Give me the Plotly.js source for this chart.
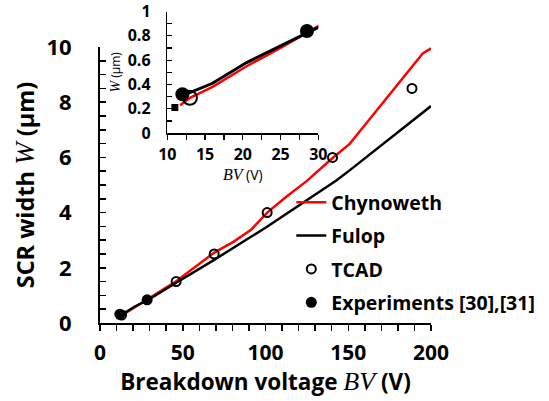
<!DOCTYPE html>
<html>
<head>
<meta charset="utf-8">
<script src="https://cdn.plot.ly/plotly-3.0.1.min.js"></script>
<style>html,body{margin:0;padding:0;background:#fff;}#chart{width:549px;height:401px;}</style>
</head>
<body>
<div id="chart"></div>
<script>
// Chynoweth model (red line)
const bvChynoweth = [11.7, 13, 16, 20.5, 25, 30, 36, 45, 69, 80.6, 91.5, 101, 112, 125, 140, 151, 157, 195, 200];
const wChynoweth  = [0.23, 0.29, 0.38, 0.55, 0.70, 0.88, 1.13, 1.47, 2.55, 2.94, 3.39, 4.0, 4.55, 5.15, 5.95, 6.5, 6.95, 9.77, 9.95];
// Fulop model (black line)
const bvFulop = [12.1, 16, 20.5, 25, 30, 45.3, 68.5, 100.7, 143, 151, 181, 200];
const wFulop  = [0.31, 0.41, 0.58, 0.72, 0.87, 1.43, 2.27, 3.48, 5.17, 5.54, 6.98, 7.86];
// TCAD (open circles)
const bvTCAD = [13, 46, 69, 101, 140.5, 188.5];
const wTCAD  = [0.29, 1.5, 2.5, 4.0, 6.0, 8.5];
// Experiments [30],[31] (filled circles)
const bvExp = [12, 28.5];
const wExp  = [0.32, 0.84];
// extra point (small square, inset)
const bvSq = [11];
const wSq  = [0.21];

const names = ['Chynoweth', 'Fulop', 'TCAD', 'Experiments [30],[31]'];
const FAM = 'Open Sans';
const serif = 'font-family:Liberation Serif;font-weight:normal';

function traces(xa, ya, inset) {
  const sl = !inset;
  return [
    {x: bvChynoweth, y: wChynoweth, xaxis: xa, yaxis: ya, mode: 'lines', name: names[0], legendgroup: 'a', showlegend: sl,
     line: {color: '#ff0000', width: 2.5}},
    {x: bvFulop, y: wFulop, xaxis: xa, yaxis: ya, mode: 'lines', name: names[1], legendgroup: 'b', showlegend: sl,
     line: {color: '#000000', width: inset ? 3 : 2.5}},
    {x: bvSq, y: wSq, xaxis: xa, yaxis: ya, mode: 'markers', name: 'sq', showlegend: false,
     marker: {symbol: 'square', size: inset ? 7 : 4, color: '#000'}},
    {x: bvTCAD, y: wTCAD, xaxis: xa, yaxis: ya, mode: 'markers', name: names[2], legendgroup: 'c', showlegend: sl,
     marker: {symbol: 'circle-open', size: inset ? 14 : 9, color: '#000', line: {width: 2, color: '#000'}}},
    {x: bvExp, y: wExp, xaxis: xa, yaxis: ya, mode: 'markers', name: names[3], legendgroup: 'd', showlegend: sl,
     marker: {symbol: 'circle', size: inset ? 14 : 11, color: '#000'}}
  ];
}

const data = traces('x', 'y', false).concat(traces('x2', 'y2', true));

const layout = {
  width: 549, height: 401,
  margin: {l: 100, r: 118, t: 5, b: 78, pad: 0},
  paper_bgcolor: '#fff', plot_bgcolor: 'rgba(0,0,0,0)',
  font: {family: FAM, weight: 700, color: '#000'},
  showlegend: true,
  legend: {x: 0.578, y: 0.44, xanchor: 'left', yanchor: 'top', bgcolor: 'rgba(0,0,0,0)',
           font: {size: 19.5, family: FAM, weight: 700}, traceorder: 'grouped', tracegroupgap: 5},
  xaxis: {domain: [0, 1], anchor: 'y', range: [0, 200], showgrid: false, zeroline: false,
          showline: true, linecolor: '#000', linewidth: 2,
          ticks: 'outside', ticklen: 6, tickwidth: 1.5, tickcolor: '#000', tick0: 0, dtick: 50,
          minor: {dtick: 10, ticks: 'outside', ticklen: 6, tickwidth: 1.5, tickcolor: '#000', showgrid: false},
          tickfont: {size: 21, family: FAM, weight: 700}, ticklabelstandoff: 4,
          title: {text: 'Breakdown voltage <span style="' + serif + ';font-size:26px"><i>BV</i></span> (V)',
                  font: {size: 22.5, family: FAM, weight: 700}, standoff: 3}},
  yaxis: {domain: [0, 0.8678], anchor: 'x', range: [0, 10], showgrid: false, zeroline: false,
          showline: true, linecolor: '#000', linewidth: 2,
          ticks: 'inside', ticklen: 6, tickwidth: 1.5, tickcolor: '#000', tick0: 0, dtick: 2,
          minor: {dtick: 0.5, ticks: 'inside', ticklen: 6, tickwidth: 1.5, tickcolor: '#000', showgrid: false},
          tickfont: {size: 22, family: FAM, weight: 700}, ticklabelstandoff: 22,
          title: {text: 'SCR width <span style="' + serif + ';font-size:27px"><i>W</i></span> (μm)',
                  font: {size: 23.5, family: FAM, weight: 700}, standoff: 5}},
  xaxis2: {domain: [0.2033, 0.6595], anchor: 'y2', range: [10, 30], showgrid: false, zeroline: false,
           showline: true, linecolor: '#000', linewidth: 1.5,
           ticks: 'outside', ticklen: 5, tickwidth: 1.2, tickcolor: '#000', tick0: 10, dtick: 5,
           minor: {dtick: 2.5, ticks: 'outside', ticklen: 5, tickwidth: 1.2, tickcolor: '#000', showgrid: false},
           tickfont: {size: 16, family: FAM, weight: 700}, ticklabelstandoff: 1,
           title: {text: '<span style="' + serif + ';font-size:16px"><i>BV</i></span> (V)',
                   font: {size: 14, family: FAM, weight: 400}, standoff: 0}},
  yaxis2: {domain: [0.5971, 0.9795], anchor: 'x2', range: [0, 1], showgrid: false, zeroline: false,
           showline: true, linecolor: '#000', linewidth: 1.5,
           ticks: 'inside', ticklen: 5, tickwidth: 1.2, tickcolor: '#000', tick0: 0, dtick: 0.2,
           minor: {dtick: 0.1, ticks: 'inside', ticklen: 5, tickwidth: 1.2, tickcolor: '#000', showgrid: false},
           tickfont: {size: 16, family: FAM, weight: 700}, ticklabelstandoff: 12,
           title: {text: '<span style="' + serif + ';font-size:14px"><i>W</i></span> (μm)',
                   font: {size: 12, family: FAM, weight: 400}, standoff: 4}}
};

Plotly.newPlot('chart', data, layout, {displayModeBar: false, staticPlot: true});
</script>
</body>
</html>
